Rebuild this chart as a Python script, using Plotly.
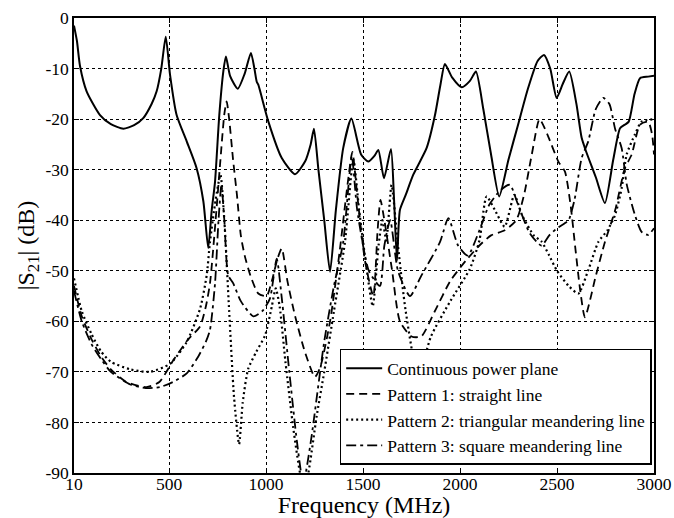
import plotly.graph_objects as go

# ---------------- data ----------------
freq_cont = [10, 25, 41, 75, 144, 200, 264, 320, 367, 410, 436, 460, 483, 505, 539, 591, 642, 677, 702,
             720, 737, 759, 780, 793, 815, 854, 890, 922, 940, 952, 960, 1012, 1081, 1149, 1201, 1230,
             1247, 1270, 1300, 1330, 1360, 1398, 1440, 1490, 1527, 1560, 1579, 1608, 1644, 1660, 1675,
             1690, 1720, 1759, 1828, 1871, 1900, 1922, 1960, 2009, 2050, 2082, 2120, 2160, 2202, 2250,
             2300, 2350, 2400, 2433, 2465, 2498, 2530, 2563, 2600, 2627, 2650, 2700, 2747, 2790, 2825,
             2850, 2870, 2900, 2928, 2970, 3000]
s21_cont = [-1.5, -4.5, -9.5, -14.5, -19.2, -21.0, -21.9, -21.2, -19.8, -17.0, -14.5, -10.0, -3.7, -11.2,
            -19.2, -24.4, -29.7, -36.3, -45.5, -38.0, -32.4, -19.2, -10.5, -7.6, -11.5, -14.0, -11.0, -6.9,
            -10.0, -12.6, -13.2, -20.5, -27.7, -30.9, -28.4, -25.0, -21.9, -30.0, -40.0, -50.2, -38.0,
            -25.7, -19.9, -27.0, -28.4, -27.2, -26.1, -31.7, -25.9, -36.0, -48.0, -38.0, -35.0, -31.0,
            -25.7, -19.2, -13.0, -9.1, -11.8, -13.7, -12.5, -10.6, -18.0, -27.0, -35.3, -28.0, -21.0,
            -14.0, -8.5, -7.3, -10.0, -15.8, -13.0, -10.6, -17.0, -23.7, -26.4, -31.5, -36.6, -28.0,
            -21.8, -21.1, -20.5, -15.0, -11.9, -11.6, -11.4]

freq_p1 = [10, 50, 100, 150, 200, 280, 384, 450, 522, 600, 660, 690, 711, 740, 765, 785, 797, 810, 830,
           850, 870, 890, 920, 960, 1003, 1030, 1060, 1081, 1110, 1150, 1200, 1252, 1280, 1330, 1380,
           1420, 1445, 1470, 1510, 1553, 1575, 1590, 1610, 1650, 1690, 1750, 1800, 1870, 1950, 2030,
           2100, 2160, 2230, 2290, 2330, 2370, 2410, 2450, 2507, 2541, 2570, 2593, 2620, 2644, 2700,
           2747, 2800, 2850, 2885, 2928, 2970, 2990, 3000]
s21_p1 = [-53.0, -59.0, -63.5, -67.0, -69.5, -72.0, -73.0, -72.0, -67.7, -63.5, -61.0, -57.0, -52.5,
          -40.0, -28.0, -19.0, -16.5, -20.0, -28.0, -35.0, -43.0, -47.0, -51.0, -54.5, -55.0, -52.0,
          -47.5, -45.6, -52.0, -59.0, -66.0, -71.0, -69.0, -60.0, -46.0, -33.0, -26.5, -35.0, -48.0,
          -55.0, -42.0, -36.0, -40.0, -50.0, -60.0, -63.0, -63.0, -58.0, -52.0, -48.0, -45.0, -43.0,
          -42.0, -40.0, -35.0, -27.0, -20.0, -23.0, -28.4, -30.4, -37.0, -45.0, -54.0, -59.2, -51.0,
          -44.3, -38.0, -29.7, -27.0, -21.1, -20.5, -23.0, -27.0]

freq_p2 = [10, 50, 100, 150, 200, 300, 402, 505, 591, 660, 694, 711, 740, 765, 785, 810, 835, 861, 880,
           908, 950, 995, 1030, 1050, 1070, 1100, 1140, 1175, 1195, 1218, 1260, 1300, 1350, 1407, 1450,
           1480, 1520, 1550, 1580, 1600, 1620, 1647, 1680, 1720, 1785, 1850, 1950, 2051, 2100, 2137,
           2180, 2230, 2280, 2320, 2380, 2420, 2460, 2500, 2560, 2610, 2660, 2713, 2760, 2799, 2833,
           2859, 2902, 2936, 3000]
s21_p2 = [-51.5, -58.0, -62.5, -66.0, -68.0, -69.5, -70.0, -68.4, -64.1, -57.5, -50.9, -44.3, -36.0,
          -31.0, -40.0, -58.0, -75.0, -84.3, -76.0, -69.4, -66.0, -62.8, -57.0, -53.5, -57.0, -68.0,
          -81.0, -90.0, -93.0, -90.0, -79.0, -70.0, -58.0, -44.3, -28.0, -38.0, -50.0, -57.0, -45.0,
          -40.0, -44.0, -33.0, -45.0, -58.0, -71.0, -63.0, -56.0, -49.6, -44.0, -35.3, -38.0, -41.3,
          -35.0, -39.0, -43.0, -44.2, -47.0, -50.0, -53.0, -54.5, -50.0, -44.3, -42.0, -39.0, -33.7,
          -27.0, -23.0, -20.5, -20.0]

freq_p3 = [10, 50, 100, 150, 200, 300, 380, 453, 520, 591, 650, 690, 711, 737, 755, 770, 785, 805, 831,
           870, 934, 980, 1020, 1055, 1080, 1120, 1160, 1192, 1230, 1300, 1350, 1398, 1442, 1470, 1530,
           1587, 1610, 1640, 1680, 1742, 1800, 1897, 1940, 1990, 2040, 2100, 2150, 2210, 2257, 2300,
           2360, 2420, 2460, 2500, 2540, 2560, 2590, 2627, 2661, 2700, 2738, 2770, 2800, 2833, 2860,
           2902, 2936, 2970, 3000]
s21_p3 = [-54.0, -60.0, -64.5, -67.5, -70.0, -72.5, -73.2, -73.0, -72.0, -70.3, -67.0, -64.0, -61.7,
          -52.5, -40.0, -33.0, -40.0, -50.9, -52.5, -56.0, -59.0, -58.0, -55.5, -47.6, -55.0, -70.0,
          -84.0, -92.0, -84.0, -64.0, -53.0, -44.3, -27.4, -38.0, -50.0, -53.0, -45.0, -40.0, -50.0,
          -55.0, -51.0, -44.3, -39.6, -45.0, -47.0, -42.0, -37.0, -34.0, -33.0, -37.0, -42.6, -45.0,
          -43.0, -41.6, -40.6, -40.0, -36.0, -27.7, -24.4, -18.0, -15.8, -17.0, -22.0, -25.7, -33.0,
          -39.0, -42.3, -42.9, -41.6]

x_tick_vals = [10, 500, 1000, 1500, 2000, 2500, 3000]
x_tick_text = ["10", "500", "1000", "1500", "2000", "2500", "3000"]
y_tick_vals = [0, -10, -20, -30, -40, -50, -60, -70, -80, -90]
y_tick_text = ["0", "-10", "-20", "-30", "-40", "-50", "-60", "-70", "-80", "-90"]

names = ["Continuous power plane", "Pattern 1: straight line",
         "Pattern 2: triangular meandering line", "Pattern 3: square meandering line"]

# ---------------- figure ----------------
FONT = "Liberation Serif"
fig = go.Figure()
series = [
    (freq_cont, s21_cont, "solid", 2.0),
    (freq_p1, s21_p1, "8px,5px", 1.8),
    (freq_p2, s21_p2, "2px,3px", 2.2),
    (freq_p3, s21_p3, "10px,4px,3px,4px", 1.8),
]
for (fx, fy, dash, w), nm in zip(series, names):
    fig.add_trace(go.Scatter(x=fx, y=fy, mode="lines", name=nm,
                             line=dict(color="black", width=w, dash=dash,
                                       shape="spline", smoothing=0.6)))

axis_common = dict(showline=True, linecolor="black", linewidth=1.5, mirror="ticks",
                   ticks="inside", ticklen=5, tickcolor="black", tickwidth=1,
                   showgrid=True, gridcolor="black", gridwidth=1, griddash="dot",
                   zeroline=False, automargin=False,
                   tickfont=dict(family=FONT, size=17.5, color="black"))

fig.update_xaxes(range=[10, 3000], tickvals=x_tick_vals, ticktext=x_tick_text,
                 ticklabelstandoff=-6,
                 title=dict(text="Frequency (MHz)", font=dict(family=FONT, size=24, color="black"),
                            standoff=10),
                 **axis_common)
fig.update_yaxes(range=[-90, 0], tickvals=y_tick_vals, ticktext=y_tick_text,
                 title=dict(text="|S<sub>21</sub>| (dB)", font=dict(family=FONT, size=24, color="black"),
                            standoff=4),
                 **axis_common)

fig.update_layout(
    width=674, height=518,
    autosize=False,
    margin=dict(l=74, r=20, t=18, b=45, pad=0, autoexpand=False),
    paper_bgcolor="white", plot_bgcolor="white",
    font=dict(family=FONT, color="black"),
    legend=dict(x=0.996, xanchor="right", y=0.018, yanchor="bottom",
                bgcolor="white", bordercolor="black", borderwidth=1.5,
                font=dict(family=FONT, size=17.5, color="black"),
                itemwidth=36, tracegroupgap=0),
    showlegend=True,
)

fig.write_html("out.html", config={"displayModeBar": False},
               post_script="document.body.style.margin='0px';document.body.style.overflow='hidden';")
